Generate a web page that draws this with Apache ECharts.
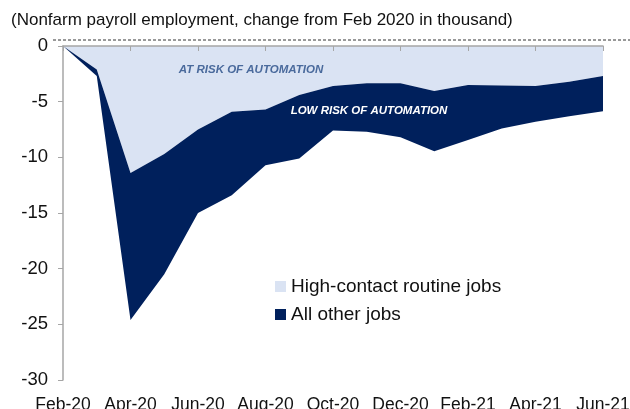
<!DOCTYPE html>
<html>
<head>
<meta charset="utf-8">
<script src="https://cdn.jsdelivr.net/npm/echarts@6/dist/echarts.min.js"></script>
<style>
  html, body { margin: 0; padding: 0; background: #fff; }
  #chart { width: 630px; height: 409px; }
</style>
</head>
<body>
<div id="chart"></div>
<script>
// months, Feb-20 .. Jun-21
const months = ['Feb-20', 'Mar-20', 'Apr-20', 'May-20', 'Jun-20', 'Jul-20', 'Aug-20', 'Sep-20',
  'Oct-20', 'Nov-20', 'Dec-20', 'Jan-21', 'Feb-21', 'Mar-21', 'Apr-21', 'May-21', 'Jun-21']

// stacked components (thousand, change from Feb 2020)
const highContact = [0, -2.1, -11.4, -9.7, -7.5, -5.9, -5.7, -4.4, -3.6, -3.35, -3.35, -4.05, -3.5, -3.55, -3.6, -3.2, -2.7]
const allOther = [0, -0.6, -13.2, -10.8, -7.5, -7.5, -5.0, -5.7, -4.0, -4.35, -4.85, -5.4, -4.95, -3.85, -3.2, -3.1, -3.15]

const LIGHT = '#dae3f3'
const DARK = '#00205c'
const FONT = '"Liberation Sans", Arial, sans-serif'

const chart = echarts.init(document.getElementById('chart'))

chart.setOption({
  animation: false,
  textStyle: { fontFamily: FONT },
  title: {
    text: '(Nonfarm payroll employment, change from Feb 2020 in thousand)',
    left: 6,
    top: 7,
    textStyle: { fontSize: 17, fontWeight: 'normal', color: '#111', fontFamily: FONT },
  },
  legend: {
    left: 270,
    top: 272,
    orient: 'vertical',
    itemWidth: 11,
    itemHeight: 11,
    itemGap: 9,
    icon: 'rect',
    textStyle: { fontSize: 19, color: '#111', fontFamily: FONT },
    data: ['High-contact routine jobs', 'All other jobs'],
  },
  grid: { left: 63, right: 27, top: 46, bottom: 29, containLabel: false, outerBoundsMode: 'none' },
  xAxis: [
    {
      type: 'category',
      data: months,
      boundaryGap: false,
      position: 'top',
      axisLine: { lineStyle: { color: '#a6a6a6', width: 1.5 } },
      axisTick: { inside: true, length: 5, interval: 1, lineStyle: { color: '#a6a6a6' } },
      axisLabel: { show: false },
      z: 10,
    },
    {
      type: 'category',
      data: months,
      boundaryGap: false,
      position: 'bottom',
      axisLine: { show: false },
      axisTick: { show: false },
      axisLabel: { interval: 1, margin: 16, fontSize: 17.5, color: '#111', fontFamily: FONT },
    },
  ],
  yAxis: {
    type: 'value',
    min: -30,
    max: 0,
    interval: 5,
    axisLine: { show: true, lineStyle: { color: '#a6a6a6', width: 1.5 } },
    axisTick: { show: true, length: 5, lineStyle: { color: '#a6a6a6' } },
    axisLabel: { fontSize: 18.5, color: '#111', margin: 15, fontFamily: FONT },
    splitLine: { show: false },
  },
  series: [
    {
      name: 'High-contact routine jobs',
      type: 'line',
      stack: 'jobs',
      data: highContact,
      symbol: 'none',
      lineStyle: { width: 0 },
      itemStyle: { color: LIGHT },
      areaStyle: { color: LIGHT, opacity: 1 },
    },
    {
      name: 'All other jobs',
      type: 'line',
      stack: 'jobs',
      data: allOther,
      symbol: 'none',
      lineStyle: { width: 0 },
      itemStyle: { color: DARK },
      areaStyle: { color: DARK, opacity: 1 },
    },
  ],
  graphic: [
    {
      type: 'line',
      shape: { x1: 53, y1: 40, x2: 630, y2: 40 },
      style: { stroke: '#333', lineWidth: 1, lineDash: [3, 2] },
    },
    {
      type: 'text',
      x: 251, y: 70,
      style: {
        text: 'AT RISK OF AUTOMATION',
        fill: '#4a6a9c',
        font: 'italic bold 11.5px ' + FONT,
        textAlign: 'center', textVerticalAlign: 'middle',
      },
      z: 20,
    },
    {
      type: 'text',
      x: 369, y: 111,
      style: {
        text: 'LOW RISK OF AUTOMATION',
        fill: '#ffffff',
        font: 'italic bold 11.5px ' + FONT,
        textAlign: 'center', textVerticalAlign: 'middle',
      },
      z: 20,
    },
  ],
})
</script>
</body>
</html>
